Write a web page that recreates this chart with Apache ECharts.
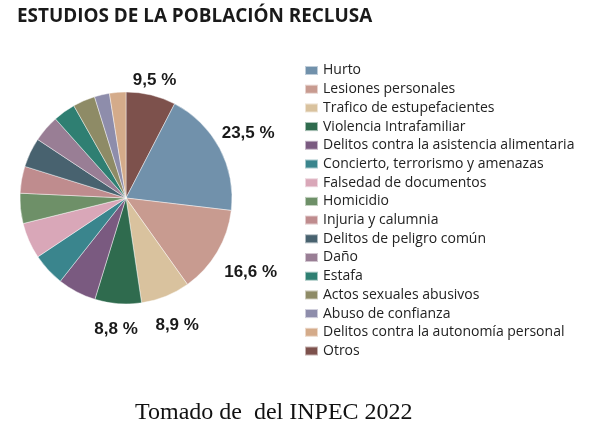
<!DOCTYPE html>
<html>
<head>
<meta charset="utf-8">
<script src="https://cdn.jsdelivr.net/npm/echarts@6/dist/echarts.min.js"></script>
<style>
html,body{margin:0;padding:0;background:#fff;}
#chart{width:589px;height:429px;}
</style>
</head>
<body>
<div id="chart"></div>
<script>
// Legend order categories
const categories = ['Hurto','Lesiones personales','Trafico de estupefacientes','Violencia Intrafamiliar','Delitos contra la asistencia alimentaria','Concierto, terrorismo y amenazas','Falsedad de documentos','Homicidio','Injuria y calumnia','Delitos de peligro común','Daño','Estafa','Actos sexuales abusivos','Abuso de confianza','Delitos contra la autonomía personal','Otros'];
// Slice sizes (percent of circle)
const values = [19.3, 13.3, 7.5, 7.1, 5.9, 5.0, 5.5, 4.6, 4.1, 4.5, 4.1, 3.4, 3.4, 2.3, 2.5, 7.6];
// Printed percentage labels
const percentLabels = ['23,5 %','16,6 %','8,9 %','8,8 %','','','','','','','','','','','','9,5 %'];
const colors = ['#7191ab','#c89b90','#d9c29e','#2f6b4e','#7a5a80','#3a858d','#d9a7b8','#6e9068','#bf8c8e','#48626f','#997e95','#2f7f72','#8e8b66','#8e8dab','#d4ab8a','#7d514c'];

// Pie drawn clockwise from 12 o'clock, beginning with "Otros"
const order = [categories.length - 1].concat(categories.map((_, i) => i).slice(0, -1));
const pieValues = order.map(i => values[i]);
const total = pieValues.reduce((a, b) => a + b, 0);
const CX = 126, CY = 198, R = 106;

const pieData = order.map(i => ({
  name: categories[i],
  value: values[i],
  itemStyle: { color: colors[i] },
  label: { show: percentLabels[i] !== '', formatter: percentLabels[i] }
}));

const chart = echarts.init(document.getElementById('chart'), null, { renderer: 'canvas' });
chart.setOption({
  animation: false,
  backgroundColor: '#ffffff',
  title: {
    text: 'ESTUDIOS DE LA POBLACIÓN RECLUSA',
    left: 12, top: 2,
    textStyle: { fontFamily: 'Open Sans', fontWeight: 'bold', fontSize: 18.9, color: '#1a1a1a' }
  },
  graphic: [{
    type: 'text', left: 135, top: 401,
    style: { text: 'Tomado de  del INPEC 2022', font: '24px "Liberation Serif"', fill: '#111' }
  }],
  legend: {
    orient: 'vertical',
    left: 299, top: 58,
    data: categories,
    icon: 'rect',
    itemWidth: 13, itemHeight: 9,
    itemGap: 3.7,
    selectedMode: false,
    textStyle: { fontFamily: 'Open Sans', fontSize: 14, color: '#222', lineHeight: 15 }
  },
  series: [{
    type: 'pie',
    center: [CX, CY],
    radius: R,
    startAngle: 90,
    clockwise: true,
    avoidLabelOverlap: false,
    data: pieData,
    itemStyle: { borderColor: 'rgba(255,255,255,0.55)', borderWidth: 0.8 },
    label: {
      position: 'outside',
      fontFamily: 'Liberation Sans', fontWeight: 'bold', fontSize: 17, color: '#1a1a1a'
    },
    labelLine: { show: false },
    emphasis: { disabled: true },
    labelLayout: function (p) {
      const idx = p.dataIndex;
      let cum = 0;
      for (let k = 0; k < idx; k++) cum += pieValues[k];
      const mid = (cum + pieValues[idx] / 2) / total * 2 * Math.PI;
      const s = Math.sin(mid), c = Math.cos(mid);
      const w = p.labelRect.width;
      const d = R + 8 + Math.abs(s) * w / 2 + Math.abs(c) * (c > 0 ? 2 : 16);
      return { x: CX + d * s, y: CY - d * c, align: 'center', verticalAlign: 'middle' };
    }
  }]
});
</script>
</body>
</html>
